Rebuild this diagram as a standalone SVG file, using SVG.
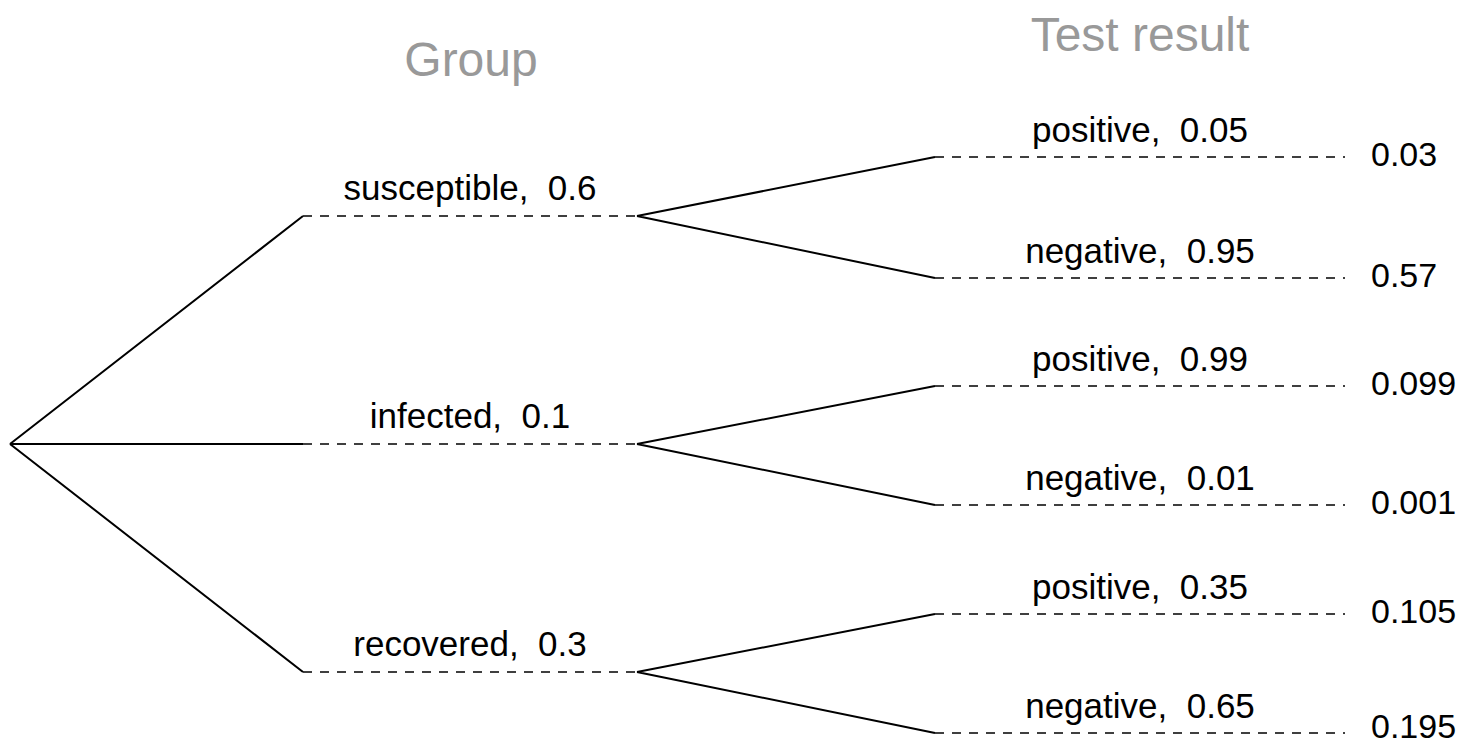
<svg xmlns="http://www.w3.org/2000/svg" width="1468" height="744" viewBox="0 0 1468 744">
<style>
.solid{stroke:#000;stroke-width:2;fill:none}
.dash{stroke:#000;stroke-width:1.7;fill:none;stroke-dasharray:9 8}
text{white-space:pre}
.lbl{font-family:"Liberation Sans",Arial,sans-serif;font-size:35px;fill:#000;text-anchor:middle}
.val{font-family:"Liberation Sans",Arial,sans-serif;font-size:34px;fill:#000}
.hdr{font-family:"Liberation Sans",Arial,sans-serif;font-size:48px;fill:#999;text-anchor:middle}
</style>
<rect width="1468" height="744" fill="#fff"/>
<g id="headers">
<text class="hdr" x="471" y="76">Group</text>
<text class="hdr" x="1140" y="51">Test result</text>
</g>
<g id="connectors">
<path class="solid" d="M10 444 L303 216 M10 444 L303 444 M10 444 L303 672"/>
<path class="dash" d="M303 216 H637 M303 444 H637 M303 672 H637"/>
<path class="solid" d="M637 216 L935 157 M637 216 L935 278 M637 444 L935 386 M637 444 L935 505 M637 672 L935 614 M637 672 L935 733"/>
<path class="dash" d="M935 157 H1345 M935 278 H1345 M935 386 H1345 M935 505 H1345 M935 614 H1345 M935 733 H1345"/>
</g>
<g id="node-susceptible"><text class="lbl" x="470" y="200" xml:space="preserve">susceptible,  0.6</text></g>
<g id="node-infected"><text class="lbl" x="470" y="428" xml:space="preserve">infected,  0.1</text></g>
<g id="node-recovered"><text class="lbl" x="470" y="656" xml:space="preserve">recovered,  0.3</text></g>
<g id="node-s-pos"><text class="lbl" x="1140" y="142" xml:space="preserve">positive,  0.05</text><text class="val" x="1371" y="166">0.03</text></g>
<g id="node-s-neg"><text class="lbl" x="1140" y="263" xml:space="preserve">negative,  0.95</text><text class="val" x="1371" y="287">0.57</text></g>
<g id="node-i-pos"><text class="lbl" x="1140" y="371" xml:space="preserve">positive,  0.99</text><text class="val" x="1371" y="395">0.099</text></g>
<g id="node-i-neg"><text class="lbl" x="1140" y="490" xml:space="preserve">negative,  0.01</text><text class="val" x="1371" y="514">0.001</text></g>
<g id="node-r-pos"><text class="lbl" x="1140" y="599" xml:space="preserve">positive,  0.35</text><text class="val" x="1371" y="623">0.105</text></g>
<g id="node-r-neg"><text class="lbl" x="1140" y="718" xml:space="preserve">negative,  0.65</text><text class="val" x="1371" y="738">0.195</text></g>
</svg>
